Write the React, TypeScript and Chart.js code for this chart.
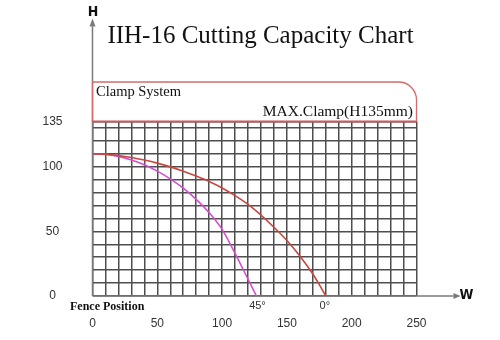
import React, { useEffect, useRef } from 'react';
import { Chart, registerables } from 'chart.js';

Chart.register(...registerables);

const titleText = 'IIH-16 Cutting Capacity Chart';
const clampLabel = 'Clamp System';
const clampMaxLabel = 'MAX.Clamp(H135mm)';
const fenceLabel = 'Fence Position';
const xAxisName = 'W';
const yAxisName = 'H';

const xMax = 250;
const yMax = 135;
const xStep = 10;
const xLabelTicks = [0, 50, 100, 150, 200, 250];
const yLabelTicks = [0, 50, 100, 135];
const yGridTicks = [0, 10, 20, 30, 40, 50, 60, 70, 80, 90, 100, 110, 120, 130, 135];

const angle0Label = '0°';
const angle45Label = '45°';

const cut0X = [0, 10, 20, 30, 40, 50, 60, 70, 80, 90, 100, 110, 120, 130, 140, 150, 160, 170, 175, 180];
const cut0Y = [110, 109.7, 108.7, 107.2, 105.2, 102.8, 99.9, 96.6, 92.8, 88.6, 83.6, 77.6, 70.8, 62.5, 53.2, 43, 31, 17, 8.8, 0];

const cut45X = [0, 10, 20, 30, 40, 50, 60, 70, 80, 90, 100, 110, 120, 126.5];
const cut45Y = [110, 109.6, 108, 105.2, 101.5, 96.6, 90.6, 83.4, 74.8, 64.5, 51.5, 33, 13, 0];

const RED = '#c9473f';
const MAGENTA = '#d24fd0';
const GRID = '#4e4e4e';
const AXIS = '#7a7a7a';
const CLAMP = '#d66a6a';

const decorPlugin = {
  id: 'decor',
  beforeDatasetsDraw(chart: any) {
    const { ctx, chartArea: a } = chart;
    ctx.save();
    ctx.strokeStyle = AXIS;
    ctx.fillStyle = AXIS;
    ctx.lineWidth = 1.5;
    const yTop = a.top - 95;
    ctx.beginPath();
    ctx.moveTo(a.left, a.bottom);
    ctx.lineTo(a.left, yTop);
    ctx.stroke();
    ctx.beginPath();
    ctx.moveTo(a.left - 3, yTop);
    ctx.lineTo(a.left + 3, yTop);
    ctx.lineTo(a.left, yTop - 8);
    ctx.closePath();
    ctx.fill();
    const xEnd = a.right + 37;
    ctx.beginPath();
    ctx.moveTo(a.left, a.bottom);
    ctx.lineTo(xEnd, a.bottom);
    ctx.stroke();
    ctx.beginPath();
    ctx.moveTo(xEnd, a.bottom - 3);
    ctx.lineTo(xEnd, a.bottom + 3);
    ctx.lineTo(xEnd + 7, a.bottom);
    ctx.closePath();
    ctx.fill();

    const boxTop = a.top - 39.5;
    const r = 18;
    ctx.strokeStyle = CLAMP;
    ctx.lineWidth = 1.3;
    ctx.beginPath();
    ctx.moveTo(a.left, a.top);
    ctx.lineTo(a.left, boxTop);
    ctx.lineTo(a.right - r, boxTop);
    ctx.arcTo(a.right, boxTop, a.right, boxTop + r, r);
    ctx.lineTo(a.right, a.top);
    ctx.stroke();
    ctx.strokeStyle = '#d0565a';
    ctx.lineWidth = 2;
    ctx.beginPath();
    ctx.moveTo(a.left, a.top);
    ctx.lineTo(a.right, a.top);
    ctx.stroke();
    ctx.restore();
  },
  afterDraw(chart: any) {
    const { ctx, chartArea: a, scales } = chart;
    const xs = scales.x;
    ctx.save();
    ctx.fillStyle = '#111';
    ctx.font = '25px "Liberation Serif", "Times New Roman", serif';
    ctx.textAlign = 'center';
    ctx.textBaseline = 'alphabetic';
    ctx.fillText(titleText, (a.left + a.right) / 2 + 6, 43);

    ctx.font = '14.5px "Liberation Serif", serif';
    ctx.textAlign = 'left';
    ctx.fillText(clampLabel, a.left + 3.5, a.top - 25.5);
    ctx.font = '15.5px "Liberation Serif", serif';
    ctx.textAlign = 'right';
    ctx.fillText(clampMaxLabel, a.right - 3.5, a.top - 6);

    ctx.font = 'bold 12px "Liberation Serif", serif';
    ctx.textAlign = 'left';
    ctx.textBaseline = 'middle';
    ctx.fillText(fenceLabel, a.left - 22.5, a.bottom + 11);

    ctx.font = '11px "Liberation Sans", sans-serif';
    ctx.fillStyle = '#333';
    ctx.textAlign = 'center';
    ctx.fillText(angle45Label, xs.getPixelForValue(cut45X[cut45X.length - 1]) + 1, a.bottom + 10);
    ctx.fillText(angle0Label, xs.getPixelForValue(cut0X[cut0X.length - 1]) - 1, a.bottom + 10);

    ctx.fillStyle = '#111';
    ctx.font = 'bold 14px "Liberation Sans Narrow", "DejaVu Sans Condensed", sans-serif';
    ctx.textAlign = 'center';
    ctx.fillText(yAxisName, a.left + 0.5, a.top - 109);
    ctx.fillText(xAxisName, a.right + 50, a.bottom - 0.5);
    ctx.restore();
  },
};

export default function App() {
  const ref = useRef<HTMLCanvasElement | null>(null);
  useEffect(() => {
    document.body.style.margin = '0';
    const canvas = ref.current;
    if (!canvas) return;
    const chart = new Chart(canvas, {
      type: 'line',
      data: {
        datasets: [
          {
            label: angle0Label,
            data: cut0X.map((x, i) => ({ x, y: cut0Y[i] })),
            borderColor: RED,
            borderWidth: 1.6,
            pointRadius: 0,
            cubicInterpolationMode: 'monotone',
            fill: false,
          },
          {
            label: angle45Label,
            data: cut45X.map((x, i) => ({ x, y: cut45Y[i] })),
            borderColor: MAGENTA,
            borderWidth: 1.6,
            pointRadius: 0,
            cubicInterpolationMode: 'monotone',
            fill: false,
          },
        ],
      },
      options: {
        responsive: false,
        animation: false,
        layout: { padding: { left: 30.5, right: 83.5, top: 121.5, bottom: 4 } },
        plugins: { legend: { display: false }, tooltip: { enabled: false }, title: { display: false } },
        scales: {
          x: {
            type: 'linear',
            min: 0,
            max: xMax,
            afterFit: (s: any) => { s.height = 40; },
            ticks: {
              stepSize: xStep,
              autoSkip: false,
              maxRotation: 0,
              padding: 20,
              color: '#333',
              font: { size: 12, family: '"Liberation Sans", sans-serif' },
              callback: (v: any) => (xLabelTicks.includes(Number(v)) ? String(v) : ''),
            },
            grid: { color: GRID, lineWidth: 1.5, drawTicks: false },
            border: { display: false },
          },
          y: {
            type: 'linear',
            min: 0,
            max: yMax,
            afterFit: (s: any) => { s.width = 62; },
            afterBuildTicks: (s: any) => { s.ticks = yGridTicks.map((v) => ({ value: v })); },
            ticks: {
              autoSkip: false,
              padding: 30,
              crossAlign: 'center',
              color: '#333',
              font: { size: 12, family: '"Liberation Sans", sans-serif' },
              callback: (v: any) => (yLabelTicks.includes(Number(v)) ? String(v) : ''),
            },
            grid: { color: GRID, lineWidth: 1.5, drawTicks: false },
            border: { display: false },
          },
        },
      },
      plugins: [decorPlugin],
    } as any);
    return () => chart.destroy();
  }, []);
  return (
    <div style={{ width: 500, height: 340 }}>
      <canvas ref={ref} width={500} height={340} />
    </div>
  );
}
